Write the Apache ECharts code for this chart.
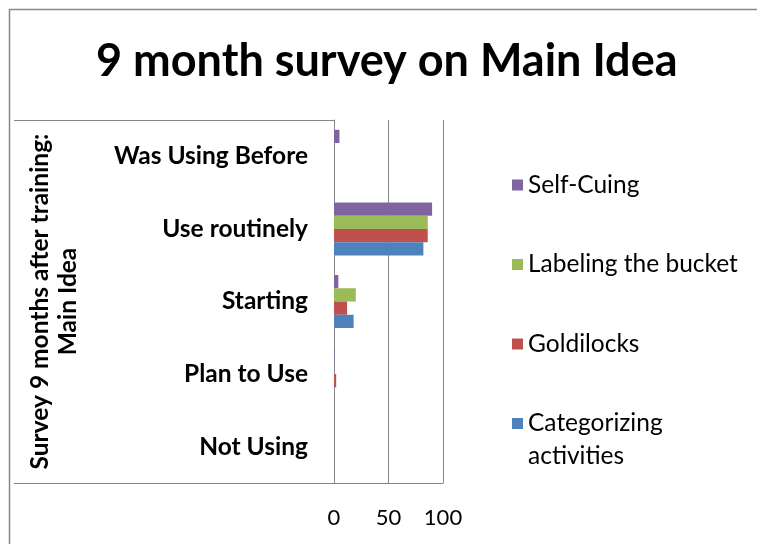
<!DOCTYPE html>
<html><head><meta charset="utf-8">
<script src="https://cdn.jsdelivr.net/npm/echarts@6/dist/echarts.min.js"></script>
<style>html,body{margin:0;padding:0;background:#fff}#c{width:757px;height:544px}</style>
</head><body><div id="c"></div>
<script>
const categories = ['Not Using', 'Plan to Use', 'Starting', 'Use routinely', 'Was Using Before'];
const seriesNames = ['Self-Cuing', 'Labeling the bucket', 'Goldilocks', 'Categorizing activities'];
const selfCuing = [0, 0.6, 4, 90, 5];
const labeling = [0, 0, 20, 86, 0];
const goldilocks = [0, 2, 12, 86, 0];
const categorizing = [0, 0, 18, 82, 0];
const valueTicks = [0, 50, 100];
const titleText = '9 month survey on Main Idea';
const axisTitle = 'Survey 9 months after training:\nMain Idea';
const colors = ['#8064A2', '#9BBB59', '#C0504D', '#4F81BD'];

const values = [selfCuing, labeling, goldilocks, categorizing];
const chart = echarts.init(document.getElementById('c'));
const FONT = 'Lato';
chart.setOption({
  animation: false,
  textStyle: { fontFamily: FONT },
  title: {
    text: titleText, left: 91, top: 34,
    textStyle: { fontFamily: FONT, fontSize: 45, fontWeight: 'bold', color: '#000' }
  },
  legend: [{
    orient: 'vertical', left: 507, top: 165, itemGap: 49.5,
    itemWidth: 11, itemHeight: 11, icon: 'rect',
    data: seriesNames.slice(0, 3),
    textStyle: { fontFamily: FONT, fontSize: 24.5, color: '#000', lineHeight: 30 }
  }, {
    orient: 'vertical', left: 507, top: 369, itemGap: 10,
    itemWidth: 11, itemHeight: 11, icon: 'rect',
    data: seriesNames.slice(3),
    formatter: n => '\n' + n.replace(' ', '\n'),
    textStyle: { fontFamily: FONT, fontSize: 24.5, color: '#000', lineHeight: 33 }
  }],
  grid: { left: 334, right: 314, top: 120, bottom: 61, containLabel: false },
  xAxis: {
    type: 'value', min: 0, max: 100, interval: 50,
    axisLine: { show: true, lineStyle: { color: '#868686', width: 1 } },
    axisTick: { show: false },
    splitLine: { show: true, lineStyle: { color: '#868686', width: 1 } },
    axisLabel: { margin: 24, fontFamily: FONT, fontSize: 22, color: '#000',
      formatter: v => valueTicks.includes(v) ? String(v) : '' }
  },
  yAxis: {
    type: 'category', data: categories,
    axisLine: { show: true, lineStyle: { color: '#868686', width: 1 } },
    axisTick: { show: false },
    axisLabel: { margin: 26, fontFamily: FONT, fontSize: 24.5, fontWeight: 'bold', color: '#000' },
    name: axisTitle, nameLocation: 'middle', nameRotate: 90, nameGap: 252,
    nameTextStyle: { fontFamily: FONT, fontSize: 24.5, fontWeight: 'bold', color: '#000', lineHeight: 28 }
  },
  series: seriesNames.map((n, i) => ({
    name: n, type: 'bar', data: values[i], barGap: '0%', barCategoryGap: '27%',
    itemStyle: { color: colors[i] }
  })),
  graphic: [
    { type: 'rect', shape: { x: 9.5, y: 9.5, width: 800, height: 600 }, style: { fill: 'none', stroke: '#888', lineWidth: 1.5 }, silent: true },
    { type: 'line', shape: { x1: 14, y1: 120.5, x2: 334, y2: 120.5 }, style: { stroke: '#868686', lineWidth: 1 }, silent: true },
    { type: 'line', shape: { x1: 14, y1: 483.5, x2: 334, y2: 483.5 }, style: { stroke: '#868686', lineWidth: 1 }, silent: true }
  ]
});
</script></body></html>
